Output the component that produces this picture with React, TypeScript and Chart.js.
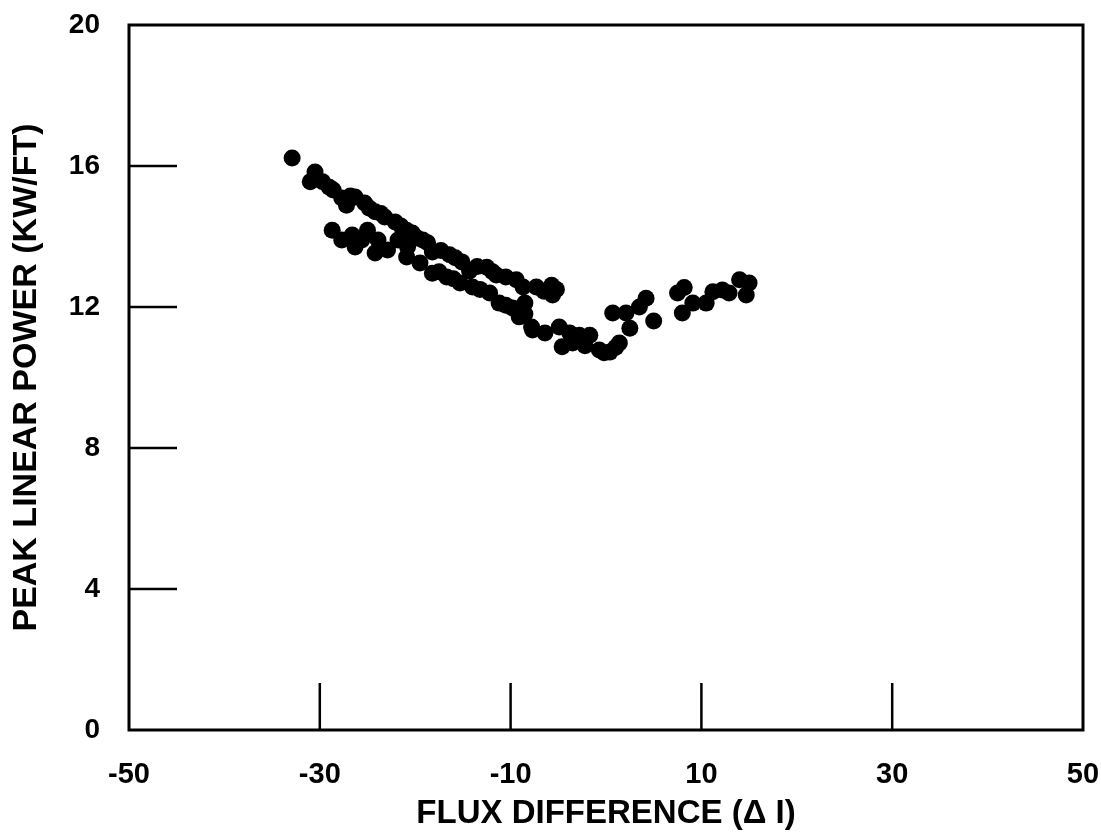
import React, { useEffect, useRef } from "react";
import { Chart, registerables } from "chart.js";

Chart.register(...registerables);

const xTickValues = [-50, -30, -10, 10, 30, 50];
const yTickValues = [0, 4, 8, 12, 16, 20];
const xMarkValues = [-30, -10, 10, 30];
const yMarkValues = [4, 8, 12, 16];

const xTitle = "FLUX DIFFERENCE (\u0394 I)";
const yTitle = "PEAK LINEAR POWER (KW/FT)";

// flux difference (x) and peak linear power (y)
const fluxDiff = [
  -32.9, -31.0, -30.5, -29.7, -29.0, -28.6, -27.7, -27.2, -26.8, -26.3, -25.3, -24.8, -24.2, -23.6,
  -23.2, -22.1, -21.5, -20.9, -20.3, -19.8, -19.2, -18.7, -18.2, -17.3, -16.4, -15.8, -15.1, -14.3,
  -13.5, -12.5, -11.9, -11.5, -10.5, -9.4, -8.7, -8.5, -7.3, -6.5, -5.7, -5.6, -5.2,
  -28.7, -27.7, -26.6, -26.3, -25.6, -25.0, -24.2, -23.9, -22.9, -21.8, -20.8, -20.9, -19.5, -18.2,
  -17.5, -16.7, -16.0, -15.3, -14.0, -13.2, -12.2, -11.2, -10.5, -9.8, -9.1, -7.8, -8.5,
  -7.7, -6.4, -4.9, -3.8, -4.6, -3.5, -2.8, -2.2, -1.7, -0.7, -0.2, 0.4, 1.0, 0.7, 1.4, 2.1, 2.5,
  3.5, 4.2, 5.0,
  7.5, 8.2, 8.0, 9.1, 10.5, 11.2, 12.2, 12.9, 14.0, 15.0, 14.7,
];
const peakPower = [
  16.23, 15.55, 15.83, 15.55, 15.4, 15.32, 15.09, 14.89, 15.15, 15.12, 14.95, 14.8, 14.7, 14.65,
  14.55, 14.41, 14.3, 14.18, 14.1, 13.96, 13.9, 13.82, 13.56, 13.6, 13.48, 13.4, 13.28, 13.02,
  13.15, 13.13, 13.0, 12.91, 12.85, 12.77, 12.57, 12.11, 12.57, 12.45, 12.62, 12.34, 12.5,
  14.18, 13.9, 14.04, 13.7, 13.9, 14.18, 13.53, 13.9, 13.62, 13.9, 13.7, 13.42, 13.25, 12.96,
  13.0, 12.85, 12.8, 12.68, 12.57, 12.5, 12.4, 12.11, 12.05, 11.97, 11.72, 11.43, 11.8,
  11.35, 11.26, 11.43, 11.26, 10.87, 10.98, 11.2, 10.9, 11.2, 10.78, 10.7, 10.72, 10.85, 11.83, 10.98, 11.83, 11.4,
  12.0, 12.25, 11.6,
  12.4, 12.55, 11.83, 12.11, 12.11, 12.43, 12.48, 12.4, 12.77, 12.68, 12.34,
];

const FONT = "'Liberation Sans', Arial, sans-serif";

const framePlugin = {
  id: "frame",
  afterDatasetsDraw(chart: any) {
    const { ctx, chartArea } = chart;
    const xs = chart.scales.x;
    const ys = chart.scales.y;
    ctx.save();
    ctx.strokeStyle = "#000";
    ctx.lineWidth = 2.5;
    ctx.beginPath();
    for (const v of xMarkValues) {
      const px = xs.getPixelForValue(v);
      ctx.moveTo(px, chartArea.bottom);
      ctx.lineTo(px, chartArea.bottom - 47);
    }
    for (const v of yMarkValues) {
      const py = ys.getPixelForValue(v);
      ctx.moveTo(chartArea.left, py);
      ctx.lineTo(chartArea.left + 48, py);
    }
    ctx.stroke();
    ctx.lineWidth = 3;
    ctx.strokeRect(chartArea.left, chartArea.top, chartArea.right - chartArea.left, chartArea.bottom - chartArea.top);
    ctx.restore();
  },
};

export default function App() {
  const ref = useRef<HTMLCanvasElement | null>(null);
  useEffect(() => {
    if (!ref.current) return;
    const points = fluxDiff.map((x, i) => ({ x, y: peakPower[i] }));
    const chart = new Chart(ref.current, {
      type: "scatter",
      data: {
        datasets: [
          {
            data: points,
            backgroundColor: "#000",
            borderColor: "#000",
            borderWidth: 0,
            pointRadius: 8.5,
            pointHoverRadius: 8.5,
          },
        ],
      },
      options: {
        responsive: false,
        animation: false,
        events: [],
        layout: { padding: { top: 25, right: 18, left: 0, bottom: 0 } },
        plugins: { legend: { display: false }, tooltip: { enabled: false } },
        scales: {
          x: {
            type: "linear",
            min: -50,
            max: 50,
            afterBuildTicks: (s: any) => {
              s.ticks = xTickValues.map((v) => ({ value: v }));
            },
            afterFit: (s: any) => {
              s.height = 106;
              s.paddingLeft = 0;
              s.paddingRight = 0;
            },
            grid: { display: false },
            border: { display: false },
            ticks: {
              color: "#000",
              padding: 20,
              maxRotation: 0,
              font: { family: FONT, size: 29, weight: "bold" },
            },
            title: {
              display: true,
              text: xTitle,
              color: "#000",
              padding: { top: 0, bottom: 2 },
              font: { family: FONT, size: 33, weight: "bold" },
            },
          },
          y: {
            type: "linear",
            min: 0,
            max: 20,
            afterBuildTicks: (s: any) => {
              s.ticks = yTickValues.map((v) => ({ value: v }));
            },
            afterFit: (s: any) => {
              s.width = 129;
              s.paddingTop = 0;
              s.paddingBottom = 0;
            },
            grid: { display: false },
            border: { display: false },
            ticks: {
              color: "#000",
              padding: 21,
              font: { family: FONT, size: 28, weight: "bold" },
            },
            title: {
              display: true,
              text: yTitle,
              color: "#000",
              padding: { top: 6, bottom: 0 },
              font: { family: FONT, size: 34, weight: "bold" },
            },
          },
        },
      },
      plugins: [framePlugin],
    });
    return () => chart.destroy();
  }, []);
  return (
    <div style={{ position: "fixed", left: 0, top: 0, width: 1101, height: 836, background: "#fff" }}>
      <canvas ref={ref} width={1101} height={836} />
    </div>
  );
}
